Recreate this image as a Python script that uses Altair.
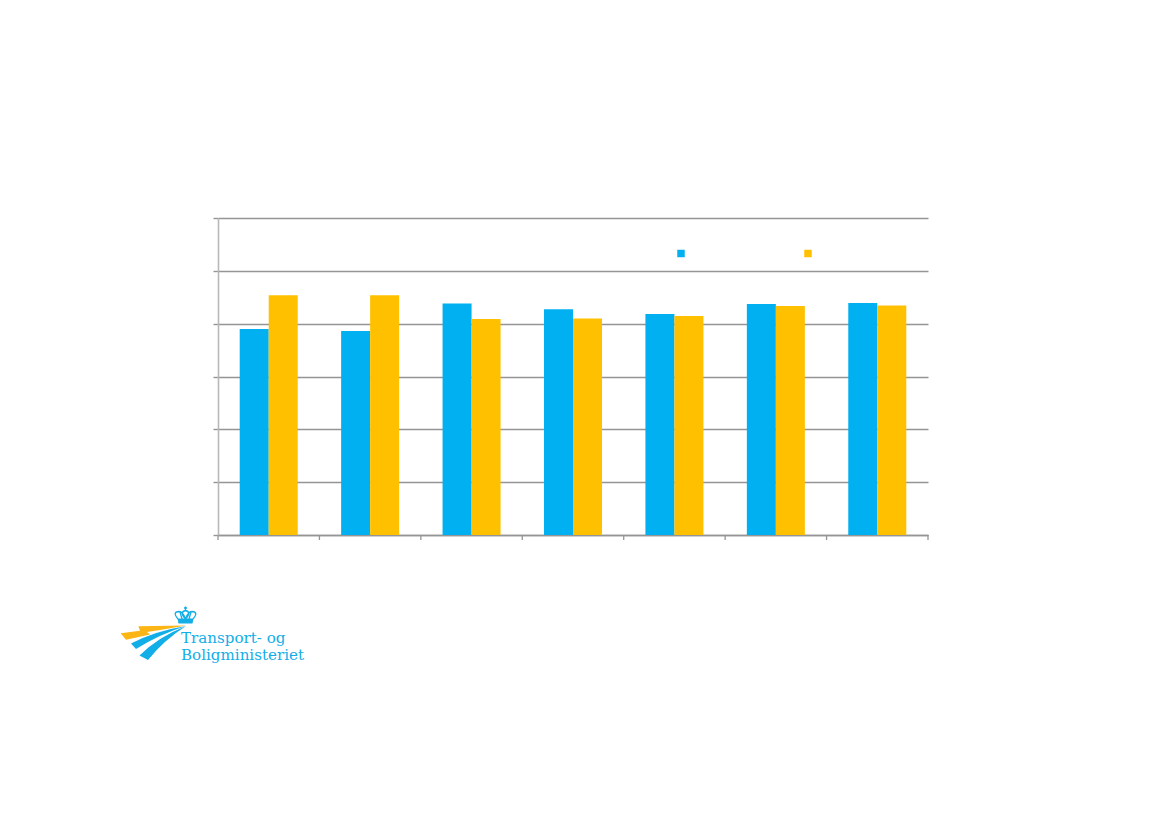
import altair as alt
import pandas as pd

categories = ["A", "B", "C", "D", "E", "F", "G"]
series_names = ["Serie 1", "Serie 2"]
series_1 = [78.0, 77.2, 87.6, 85.5, 83.7, 87.4, 87.8]
series_2 = [90.8, 90.8, 81.8, 82.0, 82.9, 86.7, 86.9]
category_edges = [0, 1, 2, 3, 4, 5, 6, 7]
colors = ["#00B0F0", "#FFC000"]
logo_lines = ["Transport- og", "Boligministeriet"]
logo_blue = "#12AEE8"
logo_yellow = "#FBB514"

PW, PH = 710, 317
OX, OY = 218, 218  # plot origin on the page
LINE = "#959595"


def pt(x, y):
    return f"{x - OX:.1f},{y - OY:.1f}"


bolt = ("M" + pt(120.7, 633.3) + " L" + pt(140, 630.7) + " L" + pt(138.3, 626.2)
        + " L" + pt(186, 625.6) + " L" + pt(163, 629.5) + " L" + pt(147, 632)
        + " L" + pt(150, 634.5) + " L" + pt(126, 639.8) + " Z")
stripe1 = ("M" + pt(131, 643.5) + " Q" + pt(155, 631) + " " + pt(186, 626)
           + " Q" + pt(160, 634) + " " + pt(136, 649) + " Z")
stripe2 = ("M" + pt(139.5, 655.5) + " Q" + pt(158, 637) + " " + pt(186, 626)
           + " Q" + pt(164, 640) + " " + pt(148, 660) + " Z")
crown_band = ("M" + pt(177.5, 618.5) + " L" + pt(193.5, 618.5) + " L" + pt(192.5, 623.5)
              + " L" + pt(178.5, 623.5) + " Z")
crown_top = ("M" + pt(178, 619) + " Q" + pt(172, 612) + " " + pt(179, 611.5)
             + " Q" + pt(183, 611.5) + " " + pt(185.5, 619)
             + " Q" + pt(179, 612) + " " + pt(185.5, 610.5)
             + " Q" + pt(192, 612) + " " + pt(185.5, 619)
             + " Q" + pt(188, 611.5) + " " + pt(192, 611.5)
             + " Q" + pt(199, 612) + " " + pt(193, 619)
             + " M" + pt(182, 619) + " L" + pt(180, 612)
             + " M" + pt(189, 619) + " L" + pt(191, 612)
             + " M" + pt(185.5, 610.5) + " L" + pt(185.5, 606.5)
             + " M" + pt(184, 608) + " L" + pt(187, 608))

df = pd.DataFrame(
    [{"cat": c, "serie": series_names[0], "v": v} for c, v in zip(categories, series_1)]
    + [{"cat": c, "serie": series_names[1], "v": v} for c, v in zip(categories, series_2)]
)

bars = alt.Chart(df).mark_bar().encode(
    x=alt.X(
        "cat:N",
        sort=categories,
        scale=alt.Scale(paddingInner=0.428, paddingOuter=0.214),
        axis=alt.Axis(
            title=None, labels=False, ticks=False, grid=False,
            domainColor=LINE, domainWidth=1.4,
        ),
    ),
    xOffset=alt.XOffset("serie:N", sort=series_names, scale=alt.Scale(paddingInner=0, paddingOuter=0)),
    y=alt.Y(
        "v:Q",
        scale=alt.Scale(domain=[0, 120]),
        axis=alt.Axis(
            title=None, labels=False, values=[0, 20, 40, 60, 80, 100, 120],
            grid=True, gridColor=LINE, gridWidth=1.4,
            tickColor=LINE, tickSize=5, tickWidth=1.4,
            domainColor="#b8b8b8", domainWidth=1.6,
        ),
    ),
    color=alt.Color(
        "serie:N",
        sort=series_names,
        scale=alt.Scale(domain=series_names, range=colors),
        legend=alt.Legend(
            orient="none", legendX=458, legendY=30.5, direction="horizontal",
            title=None, symbolType="square", symbolSize=56, symbolStrokeWidth=0,
            labelExpr="''", columnPadding=117, symbolOffset=0, labelOffset=0, padding=0,
        ),
    ),
)

edge_ticks = (
    alt.Chart(pd.DataFrame({"edge": category_edges}))
    .mark_rule(color=LINE, strokeWidth=1.3)
    .encode(
        x=alt.X("edge:Q", scale=alt.Scale(domain=[0, 7], nice=False, zero=False), axis=None),
        y=alt.value(PH),
        y2=alt.value(PH + 5),
    )
)


def shape_layer(path, color, stroke=False):
    kw = dict(shape=path, size=4, opacity=1)
    if stroke:
        kw.update(filled=False, stroke=color, strokeWidth=1.3, fillOpacity=0)
    else:
        kw.update(filled=True, fill=color, strokeWidth=0)
    return alt.Chart(pd.DataFrame({"a": [0]})).mark_point(**kw).encode(x=alt.value(0), y=alt.value(0))


logo_text = alt.layer(
    *[
        alt.Chart(pd.DataFrame({"t": [t]}))
        .mark_text(font="DejaVu Serif", fontSize=15.1, color=logo_blue, align="left", baseline="alphabetic")
        .encode(text="t:N", x=alt.value(181 - OX), y=alt.value(yy - OY))
        for t, yy in zip(logo_lines, [643, 660])
    ]
)

chart = (
    alt.layer(
        bars,
        edge_ticks,
        shape_layer(bolt, logo_yellow),
        shape_layer(stripe1, logo_blue),
        shape_layer(stripe2, logo_blue),
        shape_layer(crown_band, logo_blue),
        shape_layer(crown_top, logo_blue, stroke=True),
        logo_text,
    )
    .resolve_scale(x="independent")
    .properties(
        width=PW, height=PH,
        autosize=alt.AutoSizeParams(type="none"),
        padding={"left": 210, "top": 210, "right": 230, "bottom": 270},
    )
    .configure_view(stroke=None)
)

chart.save("out.html", embed_options={"renderer": "svg", "actions": False})
